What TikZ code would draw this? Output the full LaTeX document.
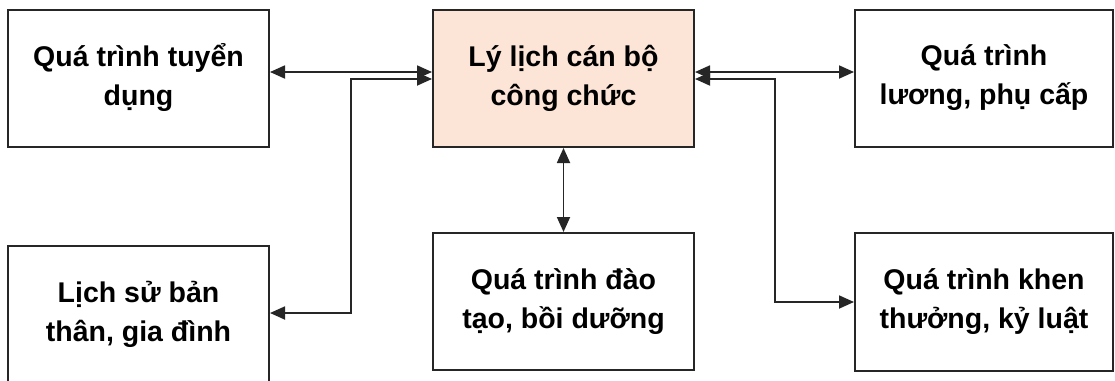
\documentclass[tikz,border=0pt]{standalone}
\usepackage{fontspec}
\setmainfont{Liberation Sans}
\usetikzlibrary{arrows.meta}
\definecolor{peach}{HTML}{FCE4D6}
\definecolor{edge}{HTML}{262626}
\tikzset{
  box/.style={draw=edge, line width=2pt, minimum width=261pt, minimum height=137pt,
    inner sep=0pt, align=center, font=\bfseries\fontsize{28.5}{39}\selectfont, text=black},
  conn/.style={draw=edge, line width=1.8pt, {Triangle[length=15pt,width=13pt]}-{Triangle[length=15pt,width=13pt]}}
}
\begin{document}
\begin{tikzpicture}[x=1pt,y=-1pt]
\useasboundingbox[fill=white] (0,0) rectangle (1115,380);
\node[box] (TL) at (138.5,78) {Quá trình tuyển\\dụng};
\node[box, fill=peach] (C) at (563.5,78.5) {Lý lịch cán bộ\\công chức};
\node[box, minimum width=258pt] (TR) at (984,78) {Quá trình\\lương, phụ cấp};
\node[box] (BL) at (138.5,314) {Lịch sử bản\\thân, gia đình};
\node[box] (BC) at (563.5,301.5) {Quá trình đào\\tạo, bồi dưỡng};
\node[box, minimum width=258pt, minimum height=138pt] (BR) at (984,302) {Quá trình khen\\thưởng, kỷ luật};
\coordinate (j1) at (351,313);
\coordinate (j2) at (775,302);
\draw[conn] (TL.east |- 0,72) -- (C.west |- 0,72);
\draw[conn] (C.west |- 0,79) -| (j1) -- (BL.east |- j1);
\draw[conn] (C.south) -- (BC.north);
\draw[conn] (C.east |- 0,72) -- (TR.west |- 0,72);
\draw[conn] (C.east |- 0,79) -| (j2) -- (BR.west |- j2);
\end{tikzpicture}
\end{document}
